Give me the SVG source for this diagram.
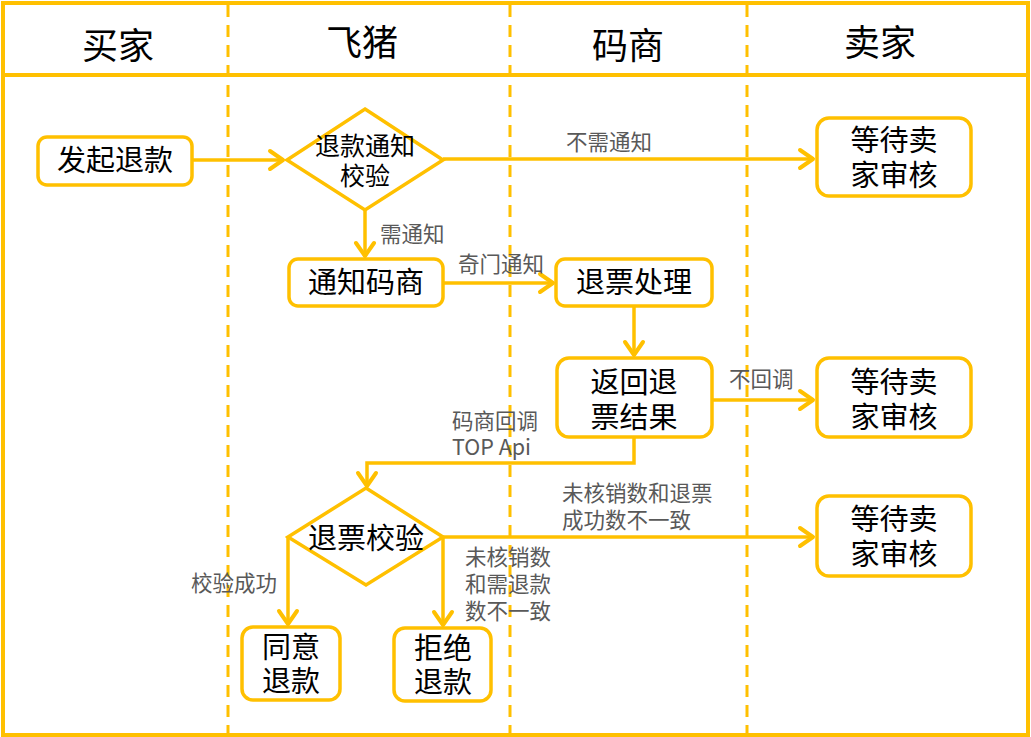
<svg xmlns="http://www.w3.org/2000/svg" width="1031" height="737" viewBox="0 0 1031 737">
<style>
.frame{fill:none;stroke:#FFC000;stroke-width:4}
.lane{stroke:#FFC000;stroke-width:3;stroke-dasharray:12 8}
.box{fill:#fff;stroke:#FFC000;stroke-width:3.5}
.edge{fill:none;stroke:#FFC000;stroke-width:3.5}
.hdr{font-family:"Noto Sans CJK SC","Noto Sans",sans-serif;font-size:36px;fill:#000;text-anchor:middle}
.nt{font-family:"Noto Sans CJK SC","Noto Sans",sans-serif;font-size:29px;fill:#000;text-anchor:middle}
.dt{font-family:"Noto Sans CJK SC","Noto Sans",sans-serif;font-size:25px;fill:#000;text-anchor:middle}
.lbl{font-family:"Noto Sans CJK SC","Noto Sans",sans-serif;font-size:21.5px;fill:#595959}
</style>
<defs>
<marker id="arr" markerUnits="userSpaceOnUse" viewBox="-18 -12 22 24" markerWidth="22" markerHeight="24" refX="0" refY="0" orient="auto" overflow="visible">
<path d="M-13,-9 L0,0 L-13,9" fill="none" stroke="#FFC000" stroke-width="4" stroke-linecap="round" stroke-linejoin="round"/>
</marker>
</defs>
<rect width="1031" height="737" fill="#fff"/>
<g id="lanes">
<rect class="frame" x="3" y="3" width="1025" height="732"/>
<line class="frame" x1="3" y1="75" x2="1028" y2="75"/>
<line class="lane" x1="228" y1="5" x2="228" y2="733"/>
<line class="lane" x1="510" y1="5" x2="510" y2="733"/>
<line class="lane" x1="747" y1="5" x2="747" y2="733"/>
<text class="hdr" x="118" y="59">买家</text>
<text class="hdr" x="362" y="56">飞猪</text>
<text class="hdr" x="628" y="59">码商</text>
<text class="hdr" x="880" y="56">卖家</text>
</g>
<g id="connectors">
<line class="edge" x1="192" y1="160" x2="283" y2="160" marker-end="url(#arr)"/>
<line class="edge" x1="443" y1="159" x2="813" y2="159" marker-end="url(#arr)"/>
<line class="edge" x1="365" y1="210" x2="365" y2="256" marker-end="url(#arr)"/>
<line class="edge" x1="443" y1="283" x2="553" y2="283" marker-end="url(#arr)"/>
<line class="edge" x1="634" y1="306" x2="634" y2="355" marker-end="url(#arr)"/>
<line class="edge" x1="712" y1="400" x2="813" y2="400" marker-end="url(#arr)"/>
<polyline class="edge" points="634,437 634,463 367,463 367,486" marker-end="url(#arr)"/>
<polyline class="edge" points="288,537 288,624" marker-end="url(#arr)"/>
<polyline class="edge" points="443,537 443,625" marker-end="url(#arr)"/>
<line class="edge" x1="443" y1="537" x2="813" y2="537" marker-end="url(#arr)"/>
<text class="lbl" x="566" y="150">不需通知</text>
<text class="lbl" x="380" y="242">需通知</text>
<text class="lbl" x="458" y="272">奇门通知</text>
<text class="lbl" x="729" y="387">不回调</text>
<text class="lbl" x="452" y="429">码商回调</text>
<text class="lbl" x="452" y="455">TOP Api</text>
<text class="lbl" x="562" y="501">未核销数和退票</text>
<text class="lbl" x="562" y="528">成功数不一致</text>
<text class="lbl" x="465" y="565">未核销数</text>
<text class="lbl" x="465" y="592">和需退款</text>
<text class="lbl" x="465" y="619">数不一致</text>
<text class="lbl" x="191" y="591">校验成功</text>
</g>
<g id="n-start">
<rect class="box" x="38" y="137" width="154" height="48" rx="9"/>
<text class="nt" x="115" y="171">发起退款</text>
</g>
<g id="n-check1">
<polygon class="box" points="365,109 443,160 365,210 287,160"/>
<text class="dt" x="365" y="155">退款通知</text>
<text class="dt" x="365" y="185">校验</text>
</g>
<g id="n-wait1">
<rect class="box" x="817" y="118" width="154" height="78" rx="12"/>
<text class="nt" x="894" y="151">等待卖</text>
<text class="nt" x="894" y="186">家审核</text>
</g>
<g id="n-notify">
<rect class="box" x="289" y="259" width="154" height="47" rx="9"/>
<text class="nt" x="366" y="293">通知码商</text>
</g>
<g id="n-process">
<rect class="box" x="556" y="259" width="156" height="47" rx="9"/>
<text class="nt" x="634" y="293">退票处理</text>
</g>
<g id="n-result">
<rect class="box" x="557" y="358" width="155" height="79" rx="12"/>
<text class="nt" x="634" y="393">返回退</text>
<text class="nt" x="634" y="428">票结果</text>
</g>
<g id="n-wait2">
<rect class="box" x="817" y="358" width="154" height="79" rx="12"/>
<text class="nt" x="894" y="393">等待卖</text>
<text class="nt" x="894" y="428">家审核</text>
</g>
<g id="n-check2">
<polygon class="box" points="366,488 443,537 366,585 288,537"/>
<text class="nt" x="366" y="549">退票校验</text>
</g>
<g id="n-wait3">
<rect class="box" x="817" y="496" width="154" height="80" rx="12"/>
<text class="nt" x="894" y="530">等待卖</text>
<text class="nt" x="894" y="565">家审核</text>
</g>
<g id="n-agree">
<rect class="box" x="242" y="627" width="98" height="73" rx="11"/>
<text class="nt" x="291" y="658">同意</text>
<text class="nt" x="291" y="692">退款</text>
</g>
<g id="n-reject">
<rect class="box" x="394" y="628" width="97" height="73" rx="11"/>
<text class="nt" x="443" y="659">拒绝</text>
<text class="nt" x="443" y="693">退款</text>
</g>
</svg>
